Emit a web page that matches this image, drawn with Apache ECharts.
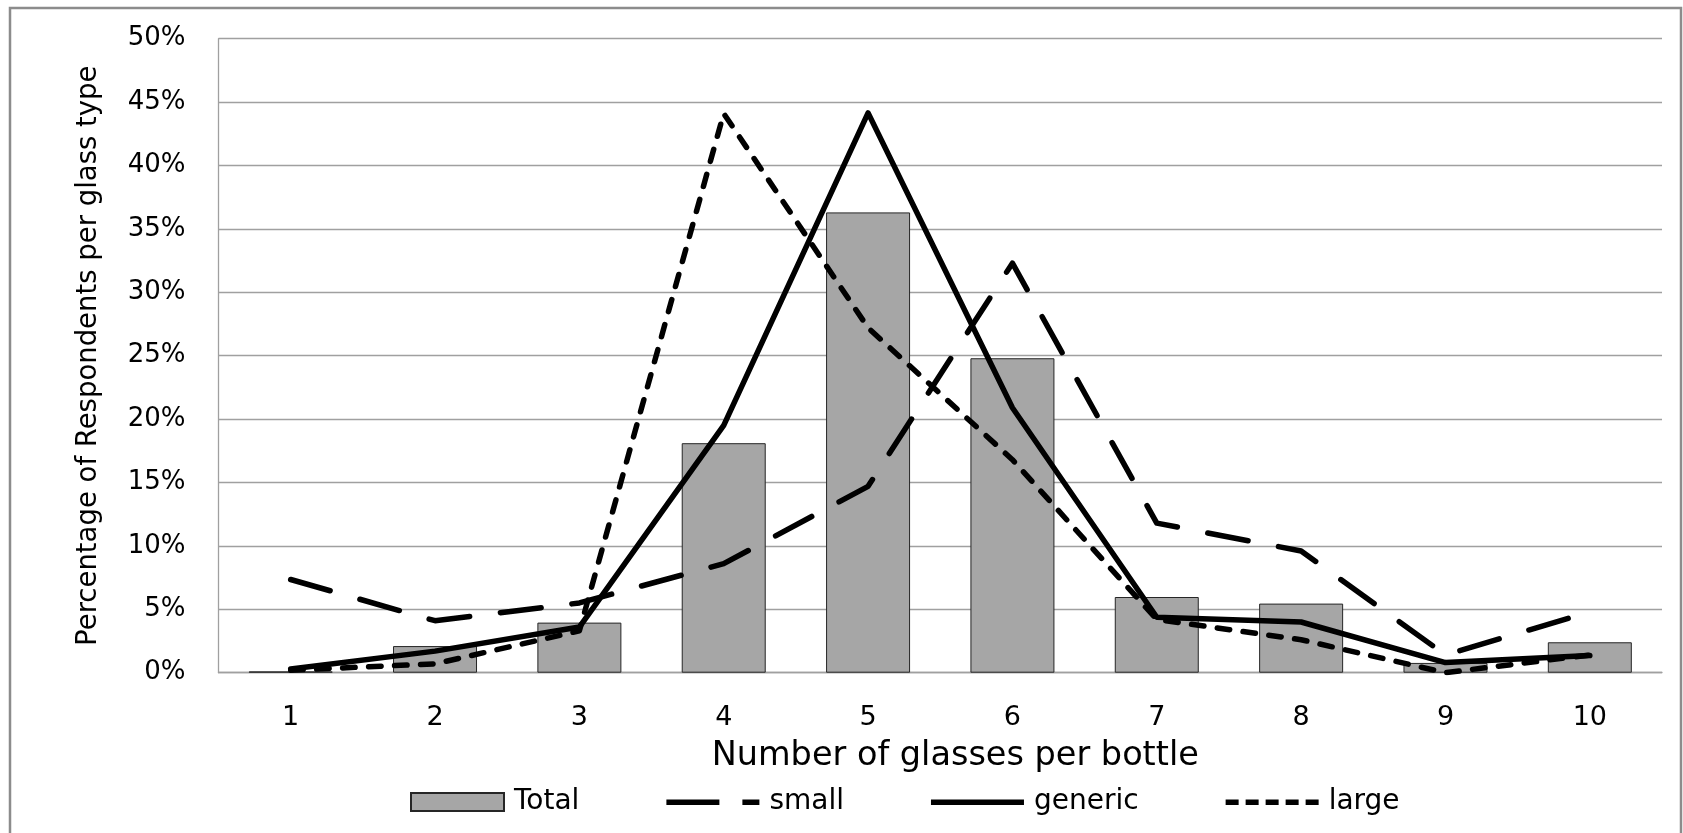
<!DOCTYPE html>
<html>
<head>
<meta charset="utf-8">
<script src="https://cdn.jsdelivr.net/npm/echarts@6/dist/echarts.min.js"></script>
<style>
html,body{margin:0;padding:0;background:#fff;}
#chart{width:1683px;height:833px;}
</style>
</head>
<body>
<div id="chart"></div>
<script>
const categories = ['1','2','3','4','5','6','7','8','9','10'];
const totalValues = [0.1, 2.1, 3.95, 18.1, 36.3, 24.8, 5.97, 5.45, 0.77, 2.4];
const smallValues = [7.35, 4.1, 5.5, 8.6, 14.7, 32.3, 11.8, 9.6, 1.4, 4.8];
const genericValues = [0.3, 1.7, 3.6, 19.5, 44.15, 20.9, 4.37, 4.0, 0.8, 1.35];
const largeValues = [0.2, 0.7, 3.3, 44.1, 27.2, 16.8, 4.2, 2.6, 0.0, 1.4];
const seriesNames = ['Total', 'small', 'generic', 'large'];

const FONT = 'DejaVu Sans';
// legend icon shapes, drawn in a 93 x 18 box (tiny corner marks fix the box)
const box = 'M0,0h0.01v0.01h-0.01z M92.99,17.99h0.01v0.01h-0.01z ';
const seg = (x0, x1) => 'M' + x0 + ',6.5h' + (x1 - x0) + 'v5.5h' + (x0 - x1) + 'z ';
const iconSmall = 'path://' + box + seg(0, 53) + seg(76, 93);
const iconGeneric = 'path://' + box + seg(0, 93);
const iconLarge = 'path://' + box + seg(0, 13) + seg(20, 33) + seg(40, 53) + seg(60, 73) + seg(80, 93);

const chart = echarts.init(document.getElementById('chart'), null, {renderer: 'canvas'});
const lineBase = {type: 'line', symbol: 'none', showSymbol: false, z: 5};
chart.setOption({
  animation: false,
  backgroundColor: '#fff',
  textStyle: {fontFamily: FONT, color: '#000'},
  graphic: [{
    type: 'rect', silent: true,
    shape: {x: 10, y: 8, width: 1671, height: 840},
    style: {fill: 'none', stroke: '#8c8c8c', lineWidth: 2.5}
  }],
  grid: {left: 218.5, right: 21, top: 38.7, bottom: 160.3, containLabel: false},
  legend: {
    data: [
      {name: 'Total', icon: 'rect'},
      {name: 'small', icon: iconSmall},
      {name: 'generic', icon: iconGeneric},
      {name: 'large', icon: iconLarge}
    ],
    left: 410, top: 788, padding: 0,
    itemWidth: 93, itemHeight: 18, itemGap: 87,
    textStyle: {fontFamily: FONT, fontSize: 28, color: '#000', padding: [0, 0, 0, 5]}
  },
  xAxis: {
    type: 'category', data: categories,
    axisTick: {show: false},
    axisLine: {lineStyle: {color: '#a0a0a0', width: 1.3}},
    axisLabel: {fontFamily: FONT, fontSize: 27, color: '#000', margin: 32},
    name: 'Number of glasses per bottle', nameLocation: 'middle', nameGap: 67,
    nameTextStyle: {fontFamily: FONT, fontSize: 33.5, color: '#000', padding: [0, 0, 0, 30]}
  },
  yAxis: {
    type: 'value', min: 0, max: 50, interval: 5,
    axisLine: {show: true, lineStyle: {color: '#a0a0a0', width: 1.3}},
    axisTick: {show: false},
    splitLine: {lineStyle: {color: '#a0a0a0', width: 1.3}},
    axisLabel: {fontFamily: FONT, fontSize: 26, color: '#000', margin: 33, formatter: '{value}%'},
    name: 'Percentage of Respondents per glass type', nameLocation: 'middle', nameGap: 116,
    nameTextStyle: {fontFamily: FONT, fontSize: 27.5, color: '#000'}
  },
  series: [
    {name: 'Total', type: 'bar', data: totalValues, barWidth: 84,
     itemStyle: {color: '#a6a6a6', borderColor: '#262626', borderWidth: 1}},
    Object.assign({}, lineBase, {name: 'small', data: smallValues,
     lineStyle: {color: '#000', width: 5.5, type: [41, 31], cap: 'round', join: 'round'},
     itemStyle: {color: '#000'}}),
    Object.assign({}, lineBase, {name: 'generic', data: genericValues,
     lineStyle: {color: '#000', width: 5.5, type: 'solid', cap: 'round', join: 'round'},
     itemStyle: {color: '#000'}}),
    Object.assign({}, lineBase, {name: 'large', data: largeValues,
     lineStyle: {color: '#000', width: 5.5, type: [12.5, 13.5], cap: 'round', join: 'round'},
     itemStyle: {color: '#000'}})
  ]
});
</script>
</body>
</html>
